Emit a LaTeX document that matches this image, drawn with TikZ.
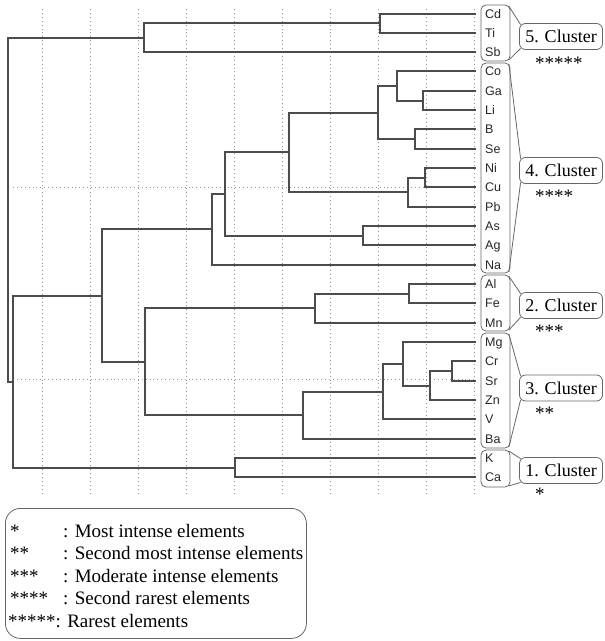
\documentclass[tikz,border=0pt]{standalone}
\usepackage{fontspec}
\setmainfont{Liberation Serif}
\setsansfont{Liberation Sans}
\usepackage{tikz}
\usetikzlibrary{fit}

\begin{document}
\begin{tikzpicture}[x=1pt,y=1pt]
\tikzstyle{every node}+=[inner sep=0pt]
\tikzstyle{branch}=[draw=black!70, line width=2pt]
\tikzstyle{gridline}=[draw=black!40, line width=0.9pt, dash pattern=on 0.9pt off 3pt]
\tikzstyle{leaf}=[anchor=west, inner xsep=9pt, text height=9pt, text depth=0pt, text=black!85, font=\sffamily\fontsize{12.5}{14}\selectfont]
\tikzstyle{leafbox}=[draw=black!60, line width=0.8pt, rounded corners=5pt]
\tikzstyle{cluster}=[draw=black!60, line width=0.8pt, rounded corners=6pt, minimum width=83pt, minimum height=26pt, font=\fontsize{18}{20}\selectfont]
\tikzstyle{callout}=[draw=black!60, line width=0.8pt]
\tikzstyle{stars}=[anchor=base west, font=\fontsize{19}{22}\selectfont]
\useasboundingbox (0,0) rectangle (605,-641);

% dotted grid
\foreach \gx in {42,90,...,474}
  \draw[gridline] (\gx,-9) -- (\gx,-495);
\foreach \gy in {187,379}
  \draw[gridline] (13,-\gy) -- (476,-\gy);

% leaves
\foreach \el [count=\i from 0] in {Cd,Ti,Sb,Co,Ga,Li,B,Se,Ni,Cu,Pb,As,Ag,Na,Al,Fe,Mn,Mg,Cr,Sr,Zn,V,Ba,K,Ca}
  \node[leaf] (\el) at (476,{-13.5-19.33*\i}) {\el};

% dendrogram
\coordinate (m1) at (380,-23.17);
\draw[branch] (Cd.west) -| (m1) |- (Ti.west);
\coordinate (m2) at (144,-37.67);
\draw[branch] (m1) -| (m2) |- (Sb.west);
\coordinate (m3) at (423,-100.5);
\draw[branch] (Ga.west) -| (m3) |- (Li.west);
\coordinate (m4) at (397,-86);
\draw[branch] (Co.west) -| (m4) |- (m3);
\coordinate (m5) at (415,-139.17);
\draw[branch] (B.west) -| (m5) |- (Se.west);
\coordinate (m6) at (378,-112.58);
\draw[branch] (m4) -| (m6) |- (m5);
\coordinate (m7) at (425,-177.83);
\draw[branch] (Ni.west) -| (m7) |- (Cu.west);
\coordinate (m8) at (408,-192.33);
\draw[branch] (m7) -| (m8) |- (Pb.west);
\coordinate (m9) at (289,-152.46);
\draw[branch] (m6) -| (m9) |- (m8);
\coordinate (m10) at (363,-235.83);
\draw[branch] (As.west) -| (m10) |- (Ag.west);
\coordinate (m11) at (225,-194.15);
\draw[branch] (m9) -| (m11) |- (m10);
\coordinate (m12) at (212,-229.49);
\draw[branch] (m11) -| (m12) |- (Na.west);
\coordinate (m13) at (409,-293.83);
\draw[branch] (Al.west) -| (m13) |- (Fe.west);
\coordinate (m14) at (315,-308.33);
\draw[branch] (m13) -| (m14) |- (Mn.west);
\coordinate (m15) at (452,-371.17);
\draw[branch] (Cr.west) -| (m15) |- (Sr.west);
\coordinate (m16) at (430,-385.67);
\draw[branch] (m15) -| (m16) |- (Zn.west);
\coordinate (m17) at (403,-363.92);
\draw[branch] (Mg.west) -| (m17) |- (m16);
\coordinate (m18) at (383,-391.71);
\draw[branch] (m17) -| (m18) |- (V.west);
\coordinate (m19) at (303,-415.27);
\draw[branch] (m18) -| (m19) |- (Ba.west);
\coordinate (m20) at (145,-361.8);
\draw[branch] (m14) -| (m20) |- (m19);
\coordinate (m21) at (102,-295.65);
\draw[branch] (m12) -| (m21) |- (m20);
\coordinate (m22) at (235,-467.83);
\draw[branch] (K.west) -| (m22) |- (Ca.west);
\coordinate (m23) at (13,-381.74);
\draw[branch] (m21) -| (m23) |- (m22);
\coordinate (root) at (8,-209.7);
\draw[branch] (m2) -| (root) |- (m23);

% leaf groups
\node[leafbox, fit={(481,-5) (510,-61)}] (g5) {};
\node[leafbox, fit={(481,-63) (510,-273)}] (g4) {};
\node[leafbox, fit={(481,-275) (510,-331)}] (g2) {};
\node[leafbox, fit={(481,-333) (510,-448)}] (g3) {};
\node[leafbox, fit={(481,-450) (510,-487)}] (g1) {};

% cluster labels
\node[cluster] (c5) at (561,-36.5) {5. Cluster};
\node[cluster] (c4) at (561,-170.5) {4. Cluster};
\node[cluster] (c2) at (561,-305.5) {2. Cluster};
\node[cluster] (c3) at (561,-388) {3. Cluster};
\node[cluster] (c1) at (561,-470.5) {1. Cluster};
\foreach \g/\c in {g5/c5,g4/c4,g2/c2,g3/c3,g1/c1} {
  \draw[callout] ([xshift=-1.5pt,yshift=-1.5pt]\g.north east) -- ([xshift=1.5pt,yshift=-1.5pt]\c.north west);
  \draw[callout] ([xshift=-1.5pt,yshift=1.5pt]\g.south east) -- ([xshift=1.5pt,yshift=1.5pt]\c.south west);
}
\node[stars] (s5) at (535,-69) {*****};
\node[stars] (s4) at (535,-202) {****};
\node[stars] (s2) at (535,-337) {***};
\node[stars] (s3) at (535,-419) {**};
\node[stars] (s1) at (535,-500) {*};

% legend
\node[draw=black!60, line width=0.8pt, rounded corners=15pt, minimum width=301pt, minimum height=130pt, anchor=north west] (legend) at (5,-508) {};
\foreach \k/\txt [count=\i] in {*/Most intense elements, **/Second most intense elements, ***/Moderate intense elements, ****/Second rarest elements} {
  \node[stars] (k\i) at (10,{-537-22.5*(\i-1)}) {\k};
  \node[stars] (t\i) at (63,{-537-22.5*(\i-1)}) {: \txt};
}
\node[stars] (k5) at (8,-627) {*****: Rarest elements};
\end{tikzpicture}
\end{document}
